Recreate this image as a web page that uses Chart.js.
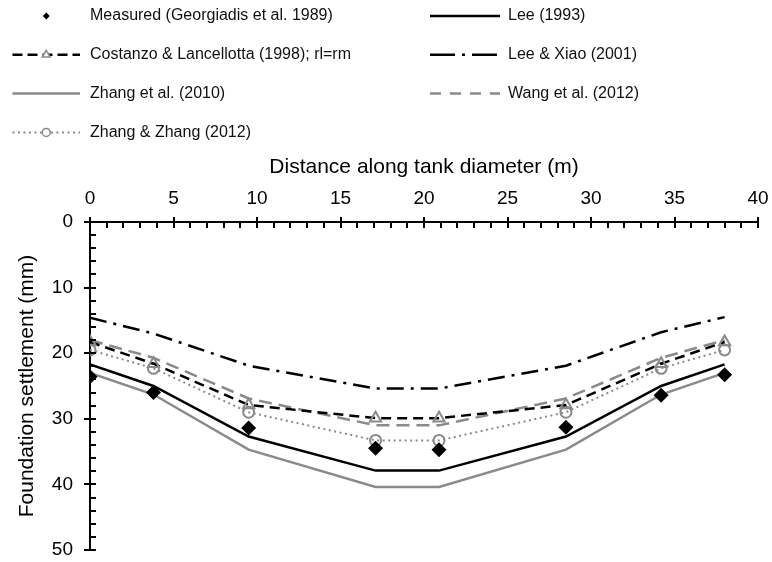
<!DOCTYPE html>
<html>
<head>
<meta charset="utf-8">
<script src="https://cdn.jsdelivr.net/npm/chart.js@4.4.0/dist/chart.umd.min.js"></script>
<style>
  html, body { margin: 0; padding: 0; background: #fff; }
</style>
</head>
<body>
<canvas id="chart" width="772" height="562"></canvas>
<script>
// values (settlement in mm, distance in m)
const distance = [0, 3.8, 9.5, 17.1, 20.9, 28.5, 34.2, 38];
const measured = [23.6, 26.0, 31.4, 34.5, 34.7, 31.3, 26.4, 23.3];
const lee1993 = [21.7, 25.0, 32.7, 37.9, 37.9, 32.7, 25.0, 21.7];
const costanzo1998 = [18.3, 21.6, 27.9, 29.9, 29.9, 27.9, 21.6, 18.3];
const leeXiao2001 = [14.6, 17.0, 21.9, 25.4, 25.4, 21.9, 16.8, 14.5];
const zhang2010 = [23.0, 26.3, 34.7, 40.4, 40.4, 34.7, 26.3, 23.0];
const wang2012 = [18.0, 20.7, 26.9, 31.0, 31.0, 26.9, 20.7, 18.0];
const zhangZhang2012 = [19.5, 22.3, 29.0, 33.3, 33.3, 29.0, 22.3, 19.5];

const xTicks = [0, 5, 10, 15, 20, 25, 30, 35, 40];
const yTicks = [0, 10, 20, 30, 40, 50];

const GRAY = '#8a8a8a';
const FONT = "'Liberation Sans', Arial, sans-serif";

function pts(values) {
  return values.map((v, i) => ({ x: distance[i], y: v }));
}

function lineSet(label, values, color, dash, extra) {
  return Object.assign({
    label: label,
    data: pts(values),
    showLine: true,
    borderColor: color,
    borderWidth: 2.5,
    borderDash: dash,
    pointRadius: 0,
    fill: false
  }, extra || {});
}

const datasets = [
  {
    label: 'Measured (Georgiadis et al. 1989)',
    data: pts(measured),
    showLine: false,
    pointStyle: 'rectRot',
    pointRadius: 7.5,
    backgroundColor: '#000',
    borderColor: '#000',
    borderWidth: 0,
    legendMarker: 3.5
  },
  lineSet('Lee (1993)', lee1993, '#000', []),
  lineSet('Costanzo & Lancellotta (1998); rl=rm', costanzo1998, '#000', [10, 6], {
    pointStyle: 'triangle', pointRadius: 6.5, pointBorderWidth: 2,
    pointBorderColor: GRAY, pointBackgroundColor: 'rgba(255,255,255,0)',
    legendDash: [10, 5], legendMarker: 4.5
  }),
  lineSet('Lee & Xiao (2001)', leeXiao2001, '#000', [17, 7, 3, 7], { legendDash: [25, 7, 3, 7] }),
  lineSet('Zhang et al. (2010)', zhang2010, GRAY, []),
  lineSet('Wang et al. (2012)', wang2012, GRAY, [13, 7], { legendDash: [11, 9] }),
  lineSet('Zhang & Zhang (2012)', zhangZhang2012, GRAY, [2, 3.5], {
    borderWidth: 2,
    pointStyle: 'circle', pointRadius: 5.5, pointBorderWidth: 2,
    pointBorderColor: GRAY, pointBackgroundColor: 'rgba(255,255,255,0)',
    legendMarker: 4
  })
];

function drawMarker(ctx, style, x, y, r, fill, stroke, lw) {
  ctx.save();
  ctx.setLineDash([]);
  ctx.beginPath();
  if (style === 'rectRot') {
    ctx.moveTo(x - r, y); ctx.lineTo(x, y - r); ctx.lineTo(x + r, y); ctx.lineTo(x, y + r);
    ctx.closePath();
  } else if (style === 'triangle') {
    for (let k = 0; k < 3; k++) {
      const a = k * 2 * Math.PI / 3;
      const px = x + Math.sin(a) * r, py = y - Math.cos(a) * r;
      if (k === 0) ctx.moveTo(px, py); else ctx.lineTo(px, py);
    }
    ctx.closePath();
  } else {
    ctx.arc(x, y, r, 0, Math.PI * 2);
  }
  if (fill) { ctx.fillStyle = fill; ctx.fill(); }
  if (stroke && lw) { ctx.strokeStyle = stroke; ctx.lineWidth = lw; ctx.stroke(); }
  ctx.restore();
}

// two-column legend above the plot, like the original figure
const customLegend = {
  id: 'customLegend',
  afterDraw(chart) {
    const ctx = chart.ctx;
    const lineX = [[12.5, 80], [430, 500]];
    const textX = [90, 508];
    chart.data.datasets.forEach((ds, i) => {
      const col = i % 2, row = Math.floor(i / 2);
      const y = 16 + row * 38.8;
      const [x0, x1] = lineX[col];
      const cx = (x0 + x1) / 2;
      ctx.save();
      if (ds.showLine) {
        ctx.strokeStyle = ds.borderColor;
        ctx.lineWidth = ds.borderWidth;
        ctx.setLineDash(ds.legendDash || ds.borderDash || []);
        ctx.beginPath();
        ctx.moveTo(x0, y); ctx.lineTo(x1, y);
        ctx.stroke();
      }
      if (ds.legendMarker) {
        if (ds.showLine) {
          drawMarker(ctx, ds.pointStyle, cx, y, ds.legendMarker, '#fff', ds.pointBorderColor, 1.5);
        } else {
          drawMarker(ctx, ds.pointStyle, cx, y, ds.legendMarker, ds.backgroundColor, null, 0);
        }
      }
      ctx.fillStyle = '#111';
      ctx.font = '16px ' + FONT;
      ctx.textBaseline = 'middle';
      ctx.textAlign = 'left';
      ctx.fillText(ds.label, textX[col], y);
      ctx.restore();
    });
  }
};

// major ticks cross the axis, minor ticks point into the plot
const tickMarks = {
  id: 'tickMarks',
  afterDraw(chart) {
    const { ctx, chartArea } = chart;
    const xs = chart.scales.x, ys = chart.scales.y;
    ctx.save();
    ctx.strokeStyle = '#000';
    ctx.lineWidth = 2;
    ctx.beginPath();
    for (let v = xs.min; v <= xs.max; v += 1) {
      const px = Math.round(xs.getPixelForValue(v));
      const major = v % 5 === 0;
      ctx.moveTo(px, chartArea.top - (major ? 5 : 0));
      ctx.lineTo(px, chartArea.top + 6);
    }
    for (let v = ys.min; v <= ys.max; v += 2) {
      const py = Math.round(ys.getPixelForValue(v));
      const major = v % 10 === 0;
      ctx.moveTo(chartArea.left - (major ? 6 : 0), py);
      ctx.lineTo(chartArea.left + 6, py);
    }
    ctx.stroke();
    ctx.restore();
  }
};

function noOverflow(s) {
  s.paddingLeft = 0; s.paddingRight = 0; s.paddingTop = 0; s.paddingBottom = 0;
}

new Chart(document.getElementById('chart'), {
  type: 'scatter',
  data: { datasets: datasets },
  options: {
    responsive: false,
    animation: false,
    devicePixelRatio: 1,
    layout: { padding: { left: 0, top: 0, right: 14, bottom: 12 } },
    plugins: {
      legend: { display: false },
      tooltip: { enabled: false }
    },
    scales: {
      x: {
        type: 'linear',
        position: 'top',
        min: 0,
        max: 40,
        afterBuildTicks: s => { s.ticks = xTicks.map(v => ({ value: v })); },
        afterFit: s => { s.height = 222; noOverflow(s); },
        ticks: { color: '#000', font: { size: 19, family: FONT }, padding: 12, maxRotation: 0 },
        grid: { display: false, drawTicks: false },
        border: { display: true, color: '#000', width: 2 },
        title: {
          display: true,
          text: 'Distance along tank diameter (m)',
          color: '#000',
          font: { size: 21, family: FONT },
          padding: { top: 155, bottom: 0 }
        }
      },
      y: {
        type: 'linear',
        reverse: true,
        min: 0,
        max: 50,
        afterBuildTicks: s => { s.ticks = yTicks.map(v => ({ value: v })); },
        afterFit: s => { s.width = 90; noOverflow(s); },
        ticks: { color: '#000', font: { size: 19, family: FONT }, padding: 17 },
        grid: { display: false, drawTicks: false },
        border: { display: true, color: '#000', width: 2 },
        title: {
          display: true,
          text: 'Foundation settlement (mm)',
          color: '#000',
          font: { size: 21, family: FONT },
          padding: { top: 15, bottom: 0 }
        }
      }
    }
  },
  plugins: [customLegend, tickMarks]
});
</script>
</body>
</html>
